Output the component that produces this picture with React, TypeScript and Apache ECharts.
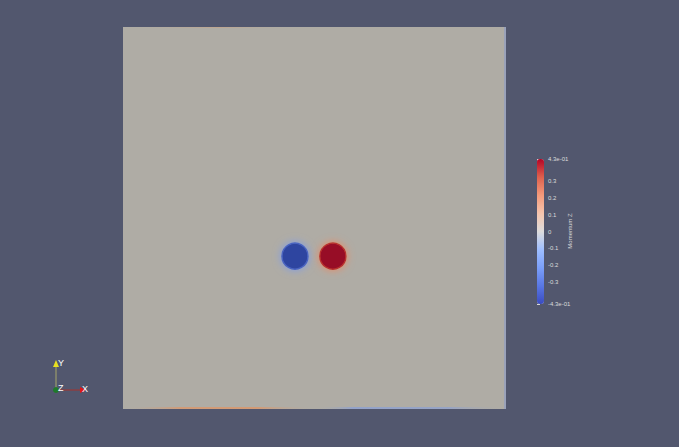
import React, { useEffect, useRef } from "react";
import * as echarts from "echarts";

// Domain: normalized coordinates [0,1] x [0,1]
const blobNames = ["vortex A", "vortex B"];
const blobX = [0.449, 0.548];
const blobY = [0.4, 0.4];
const blobValue = [-0.43, 0.43];

const cbMin = -0.43;
const cbMax = 0.43;
const cbTicks = [-0.43, -0.3, -0.2, -0.1, 0, 0.1, 0.2, 0.3, 0.43];
const cbTickLabels = ["-4.3e-01", "-0.3", "-0.2", "-0.1", "0", "0.1", "0.2", "0.3", "4.3e-01"];
const cbTitle = "Momentum Z";

const coolWarm = ["#3b4cc0", "#5977e3", "#7b9ff9", "#9ebeff", "#dddcdc", "#f5c4ad", "#f49a7b", "#de604d", "#b40426"];

export default function App() {
  const ref = useRef<HTMLDivElement>(null);
  useEffect(() => {
    const chart = echarts.init(ref.current!, null, { renderer: "svg" });
    const labelOf = (v: number) => {
      const i = cbTicks.findIndex((t) => Math.abs(t - v) < 1e-6);
      return i >= 0 ? cbTickLabels[i] : "";
    };
    const blobData = blobX.map((x, i) => {
      const neg = blobValue[i] < 0;
      return {
        name: blobNames[i],
        value: [x, blobY[i], blobValue[i]],
        itemStyle: {
          color: neg ? "#2f45a0" : "#970a25",
          opacity: 1,
          borderWidth: 1.5,
          borderColor: neg ? "#4a64c0" : "#b8302e",
          shadowBlur: 8,
          shadowColor: neg ? "rgba(125,155,235,1)" : "rgba(238,135,95,1)",
        },
      };
    });
    chart.setOption({
      animation: false,
      backgroundColor: "#52576e",
      grid: [
        { left: 123, top: 27, width: 383, height: 382, show: true, backgroundColor: "#afaca5", borderWidth: 0 },
        { left: 537, top: 159, width: 7, height: 145, show: false },
      ],
      xAxis: [
        { gridIndex: 0, type: "value", min: 0, max: 1, show: false },
        { gridIndex: 1, type: "value", min: 0, max: 1, show: false },
      ],
      yAxis: [
        { gridIndex: 0, type: "value", min: 0, max: 1, show: false },
        {
          gridIndex: 1,
          type: "value",
          min: cbMin,
          max: cbMax,
          position: "right",
          splitLine: { show: false },
          axisLine: { show: false },
          axisTick: { show: true, length: 3, customValues: cbTicks, lineStyle: { color: "#d8d8d8", width: 1 } },
          axisLabel: {
            customValues: cbTicks,
            formatter: (v: number) => labelOf(v),
            color: "#dcdcdc",
            fontSize: 6,
            margin: 4,
            fontFamily: "Liberation Sans, Arial, sans-serif",
          },
        },
      ],
      visualMap: {
        type: "continuous",
        min: cbMin,
        max: cbMax,
        seriesIndex: 1,
        left: 537,
        top: 159,
        itemWidth: 7,
        itemHeight: 145,
        padding: 0,
        text: null,
        calculable: false,
        hoverLink: false,
        inRange: { color: coolWarm },
      },
      series: [
        {
          type: "scatter",
          xAxisIndex: 0,
          yAxisIndex: 0,
          symbol: "circle",
          symbolSize: 26,
          data: blobData,
          silent: true,
        },
        {
          type: "scatter",
          xAxisIndex: 1,
          yAxisIndex: 1,
          data: [],
          silent: true,
        },
      ],
      graphic: [
        {
          type: "rect",
          shape: { x: 123, y: 407, width: 383, height: 2 },
          style: {
            fill: new echarts.graphic.LinearGradient(0, 0, 1, 0, [
              { offset: 0, color: "rgba(175,172,165,0)" },
              { offset: 0.15, color: "rgba(220,150,105,0.75)" },
              { offset: 0.35, color: "rgba(220,150,105,0.8)" },
              { offset: 0.5, color: "rgba(175,172,165,0)" },
              { offset: 0.6, color: "rgba(140,160,210,0.8)" },
              { offset: 0.85, color: "rgba(140,160,210,0.7)" },
              { offset: 1, color: "rgba(175,172,165,0)" },
            ]),
          },
          silent: true,
        },
        {
          type: "rect",
          shape: { x: 123, y: 27, width: 383, height: 1 },
          style: {
            fill: new echarts.graphic.LinearGradient(0, 0, 1, 0, [
              { offset: 0, color: "rgba(175,172,165,0)" },
              { offset: 0.25, color: "rgba(205,160,125,0.5)" },
              { offset: 0.45, color: "rgba(175,172,165,0)" },
              { offset: 1, color: "rgba(175,172,165,0)" },
            ]),
          },
          silent: true,
        },
        {
          type: "rect",
          shape: { x: 504, y: 27, width: 2, height: 382 },
          style: { fill: "rgba(140,155,200,0.6)" },
          silent: true,
        },
        {
          type: "text",
          x: 570,
          y: 231,
          rotation: Math.PI / 2,
          style: {
            text: cbTitle,
            fill: "#dcdcdc",
            fontSize: 6,
            fontFamily: "Liberation Sans, Arial, sans-serif",
            align: "center",
            verticalAlign: "middle",
          },
          silent: true,
        },
        { type: "line", shape: { x1: 56, y1: 389, x2: 56, y2: 366 }, style: { stroke: "#9a9a6a", lineWidth: 1.2 }, silent: true },
        { type: "polygon", shape: { points: [[53, 367], [59, 367], [56, 360]] }, style: { fill: "#e8e020" }, silent: true },
        { type: "line", shape: { x1: 56, y1: 390, x2: 80, y2: 390 }, style: { stroke: "#9a3838", lineWidth: 1.2 }, silent: true },
        { type: "polygon", shape: { points: [[80, 387], [80, 393], [86, 390]] }, style: { fill: "#e01818" }, silent: true },
        { type: "circle", shape: { cx: 56, cy: 390, r: 3 }, style: { fill: "#1f7a2a" }, silent: true },
        { type: "text", x: 58, y: 358, style: { text: "Y", fill: "#ffffff", fontSize: 9, fontFamily: "Liberation Sans, Arial, sans-serif" }, silent: true },
        { type: "text", x: 58, y: 383, style: { text: "Z", fill: "#ffffff", fontSize: 9, fontFamily: "Liberation Sans, Arial, sans-serif" }, silent: true },
        { type: "text", x: 82, y: 384, style: { text: "X", fill: "#ffffff", fontSize: 9, fontFamily: "Liberation Sans, Arial, sans-serif" }, silent: true },
      ],
    });
    return () => chart.dispose();
  }, []);
  return <div ref={ref} style={{ position: "fixed", left: 0, top: 0, width: 679, height: 447 }} />;
}
